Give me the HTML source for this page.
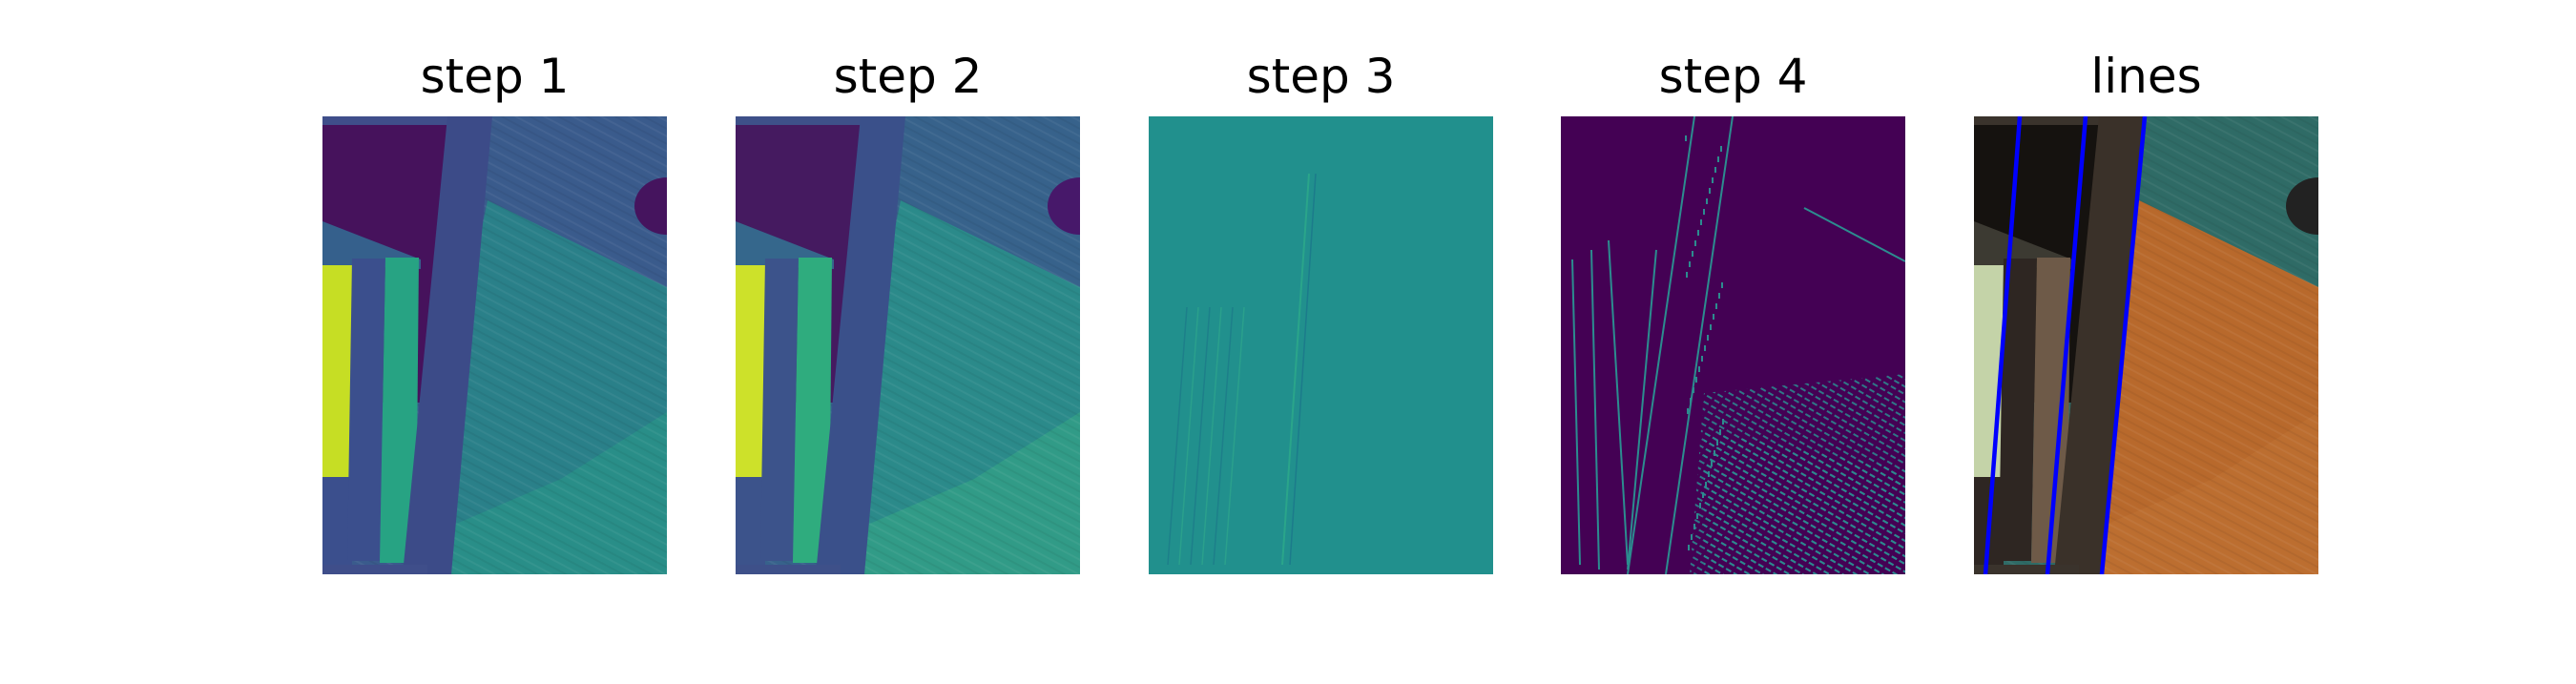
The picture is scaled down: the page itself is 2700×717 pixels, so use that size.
<!DOCTYPE html>
<html><head><meta charset="utf-8">
<style>
html,body{margin:0;padding:0;background:#fff;}
svg{display:block;}
text{font-family:"DejaVu Sans","Liberation Sans",sans-serif;}
</style></head>
<body>
<svg id="fig" width="2700" height="717" viewBox="0 0 2700 717" xmlns="http://www.w3.org/2000/svg">
<defs>
<pattern id="grain" width="14" height="14" patternUnits="userSpaceOnUse" patternTransform="rotate(28)">
<rect width="14" height="14" fill="none"/><line x1="0" y1="3" x2="14" y2="3" stroke="#fff" stroke-opacity="0.05" stroke-width="2"/><line x1="0" y1="10" x2="14" y2="10" stroke="#000" stroke-opacity="0.05" stroke-width="2"/>
</pattern>
<pattern id="edges" width="9" height="7" patternUnits="userSpaceOnUse" patternTransform="rotate(30)">
<rect width="9" height="7" fill="none"/><rect x="0" y="1" width="6" height="2" fill="#2c8c8f" fill-opacity="0.85"/>
</pattern>
</defs>
<g id="panels"></g>
</svg>
<script>
const titles = ["step 1", "step 2", "step 3", "step 4", "lines"];
const panelLeft = [338, 771, 1204, 1636, 2069];
const panelTop = 122, PW = 361, PH = 480;
const NS = "http://www.w3.org/2000/svg";
function mk(tag, attrs, parent){const e=document.createElementNS(NS,tag);for(const k in attrs)e.setAttribute(k,attrs[k]);parent.appendChild(e);return e;}
const palettes = [
 {bg:"#3a5b8c",interior:"#46125c",band:"#3f4e8a",post:"#3c4b88",floor:"#2a8089",floorLo:"#2a9488",foot:"#45145e",b1:"#c6de24",b2:"#3b4f8d",b3:"#27a383",pages:"#35608c"},
 {bg:"#37628b",interior:"#451a60",band:"#3e5089",post:"#3a508a",floor:"#2b8a8a",floorLo:"#34a286",foot:"#47186a",b1:"#cde12a",b2:"#3c538b",b3:"#2fac7e",pages:"#35678c"},
 null,null,
 {bg:"#2f6b66",interior:"#15120f",band:"#3a332c",post:"#3a3129",floor:"#b8692c",floorLo:"#bd7132",foot:"#222",b1:"#c4d3a8",b2:"#2e2622",b3:"#6e5a48",pages:"#3c3a32"}
];
const g = document.getElementById('panels');
for (let i=0;i<titles.length;i++){
  const x0 = panelLeft[i];
  const t = mk('text',{x:x0+PW/2,y:97,'font-size':50,'text-anchor':'middle',fill:'#000'},g);
  t.textContent = titles[i];
  
  
  const p = mk('g',{transform:`translate(${x0},${panelTop})`},g);
  
  
  mk('clipPath',{id:'c'+i},p); mk('rect',{width:PW,height:PH},p.lastChild);
  const s = mk('g',{'clip-path':`url(#c${i})`},p);
  if (i===2){
    mk('rect',{width:PW,height:PH,fill:'#21908d'},s);
    for (let k=0;k<6;k++) mk('line',{x1:40+k*12,y1:200,x2:20+k*12,y2:470,stroke:k%2?'#2aa08c':'#1d7f8a','stroke-width':1.5},s);
    mk('line',{x1:168,y1:60,x2:140,y2:470,stroke:'#2aa58a','stroke-width':2},s);
    mk('line',{x1:175,y1:60,x2:148,y2:470,stroke:'#1c7b8b','stroke-width':1.5},s);
    continue;
  }
  if (i===3){
    mk('rect',{width:PW,height:PH,fill:'#440154'},s);
    mk('polygon',{points:`135,480 150,290 361,270 361,480`,fill:'url(#edges)'},s);
    mk('polygon',{points:`150,480 150,330 361,370 361,480`,fill:'url(#edges)'},s);
    mk('line',{x1:255,y1:96,x2:361,y2:152,stroke:'#2c8c8f','stroke-width':2},s);
    [[2,150,50,470],[22,140,70,475],[40,130,100,470],[90,140,100,475],[130,0,100,480],[170,0,140,480]].forEach(a=>mk('line',{x1:a[0]+10,y1:a[1],x2:a[2]-30,y2:a[3],stroke:'#2c8c8f','stroke-width':2},s));
    for (let k=0;k<40;k++) mk('rect',{x:130+(k*37)%40,y:20+k*11,width:2,height:6,fill:'#2c8c8f'},s);
    continue;
  }
  const c = palettes[i];
  mk('rect',{width:PW,height:PH,fill:c.bg},s);
  mk('polygon',{points:`173,88 361,179 361,480 93,480`,fill:c.floor},s);
  mk('polygon',{points:`93,480 110,440 250,380 361,310 361,480`,fill:c.floorLo,'fill-opacity':0.7},s);
  mk('rect',{width:PW,height:PH,fill:'url(#grain)'},s);
  mk('polygon',{points:`0,9 131,9 131,300 0,300`,fill:c.interior},s);
  mk('rect',{x:0,y:0,width:131,height:9,fill:c.band},s);
  mk('ellipse',{cx:361,cy:94,rx:34,ry:30,fill:c.foot},s);
  mk('polygon',{points:`0,110 103,150 103,160 0,156`,fill:c.pages},s);
  mk('polygon',{points:`0,156 31,156 31,378 0,378`,fill:c.b1},s);
  mk('polygon',{points:`0,378 31,378 31,470 0,470`,fill:c.b2},s);
  mk('polygon',{points:`31,149 66,149 60,466 26,466`,fill:c.b2},s);
  mk('polygon',{points:`66,148 101,148 98,468 60,468`,fill:c.b3},s);
  mk('polygon',{points:`131,0 178,0 135,480 84,480`,fill:c.post},s);
  mk('rect',{x:0,y:470,width:110,height:10,fill:c.band},s);
  if (i===4){
    const lines=[[48,12],[117,77],[179,134]];
    lines.forEach((L,k)=>{
      const ln = mk('line',{x1:L[0],y1:0,x2:L[1],y2:PH,stroke:'#0000ff','stroke-width':4.5},s);
      
      
    });
  }
}
</script>
</body></html>
